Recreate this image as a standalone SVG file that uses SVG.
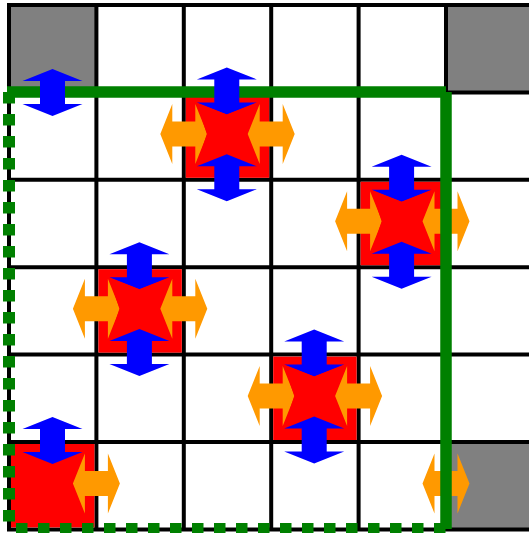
<svg xmlns="http://www.w3.org/2000/svg" width="529" height="533" viewBox="0 0 529 533">
<style>
.grid{stroke:#000;stroke-width:4;fill:none}
.gray{fill:#808080}
.red{fill:#ff0000}
.blue{fill:#0000ff}
.orange{fill:#ff9900}
.star{fill:#ff0000}
.green{stroke:#008000;fill:none;stroke-width:11.5}
.dash{stroke:#008000;fill:none;stroke-width:12;stroke-dasharray:11.5 10.5}
</style>
<defs>
<path id="harrow" d="M-23.5,0 L-11.5,-30 L-11.5,-12.5 L11.5,-12.5 L11.5,-30 L23.5,0 L11.5,30 L11.5,12.5 L-11.5,12.5 L-11.5,30 Z"/>
<path id="varrow" d="M0,-23.5 L30,-11.5 L12.5,-11.5 L12.5,11.5 L30,11.5 L0,23.5 L-30,11.5 L-12.5,11.5 L-12.5,-11.5 L-30,-11.5 Z"/>
<path id="star" d="M-30,-31 L0,-19.5 L30,-31 L20,0 L30,31 L0,19.5 L-30,31 L-20,0 Z"/>
</defs>
<rect x="0" y="0" width="529" height="533" fill="#fff"/>
<g id="cells">
<rect class="gray" x="9" y="5" width="87.4" height="87.4"/>
<rect class="gray" x="446" y="5" width="83" height="87.4"/>
<rect class="gray" x="446" y="442" width="83" height="87.4"/>
</g>
<g id="grid" class="grid">
<path d="M9,3V531M96.4,3V531M183.8,3V531M271.2,3V531M358.6,3V531M446,3V531"/>
<path d="M7,5H529M7,92.4H529M7,179.8H529M7,267.2H529M7,354.6H529M7,442H529M7,529.4H529"/>
</g>
<g id="node-2-1">
<rect class="red" x="185.8" y="94.4" width="83.4" height="83.4"/>
<use href="#harrow" class="orange" transform="translate(183.8,133.9)"/>
<use href="#harrow" class="orange" transform="translate(271.2,133.9)"/>
</g>
<g id="node-4-2">
<rect class="red" x="360.6" y="181.8" width="83.4" height="83.4"/>
<use href="#harrow" class="orange" transform="translate(358.6,221.3)"/>
<use href="#harrow" class="orange" transform="translate(446,221.3)"/>
</g>
<g id="node-1-3">
<rect class="red" x="98.4" y="269.2" width="83.4" height="83.4"/>
<use href="#harrow" class="orange" transform="translate(96.4,308.7)"/>
<use href="#harrow" class="orange" transform="translate(183.8,308.7)"/>
</g>
<g id="node-3-4">
<rect class="red" x="273.2" y="356.6" width="83.4" height="83.4"/>
<use href="#harrow" class="orange" transform="translate(271.2,396.1)"/>
<use href="#harrow" class="orange" transform="translate(358.6,396.1)"/>
</g>
<g id="node-0-5">
<rect class="red" x="11" y="444" width="83.4" height="83.4"/>
<use href="#harrow" class="orange" transform="translate(96.4,483.5)"/>
</g>
<g id="arrow-right-edge">
<use href="#harrow" class="orange" transform="translate(446,483.5)"/>
</g>
<g id="connectors">
<line class="dash" x1="9" y1="92" x2="9" y2="529"/>
<line class="dash" x1="16" y1="529" x2="446" y2="529"/>
<line class="green" x1="7" y1="92" x2="446" y2="92"/>
<line class="green" x1="446" y1="92" x2="446" y2="529"/>
</g>
<g id="arrow-top-left">
<use href="#varrow" class="blue" transform="translate(52.5,92.5)"/>
</g>
<g id="node-2-1-top">
<use href="#varrow" class="blue" transform="translate(226.8,90.9)"/>
<use href="#varrow" class="blue" transform="translate(226.8,177.8)"/>
<use href="#star" class="star" transform="translate(226.8,133.9)"/>
</g>
<g id="node-4-2-top">
<use href="#varrow" class="blue" transform="translate(401.6,178.3)"/>
<use href="#varrow" class="blue" transform="translate(401.6,265.2)"/>
<use href="#star" class="star" transform="translate(401.6,221.3)"/>
</g>
<g id="node-1-3-top">
<use href="#varrow" class="blue" transform="translate(139.4,265.7)"/>
<use href="#varrow" class="blue" transform="translate(139.4,352.6)"/>
<use href="#star" class="star" transform="translate(139.4,308.7)"/>
</g>
<g id="node-3-4-top">
<use href="#varrow" class="blue" transform="translate(314.2,353.1)"/>
<use href="#varrow" class="blue" transform="translate(314.2,440)"/>
<use href="#star" class="star" transform="translate(314.2,396.1)"/>
</g>
<g id="node-0-5-top">
<use href="#varrow" class="blue" transform="translate(52.5,440.5)"/>
</g>
</svg>
